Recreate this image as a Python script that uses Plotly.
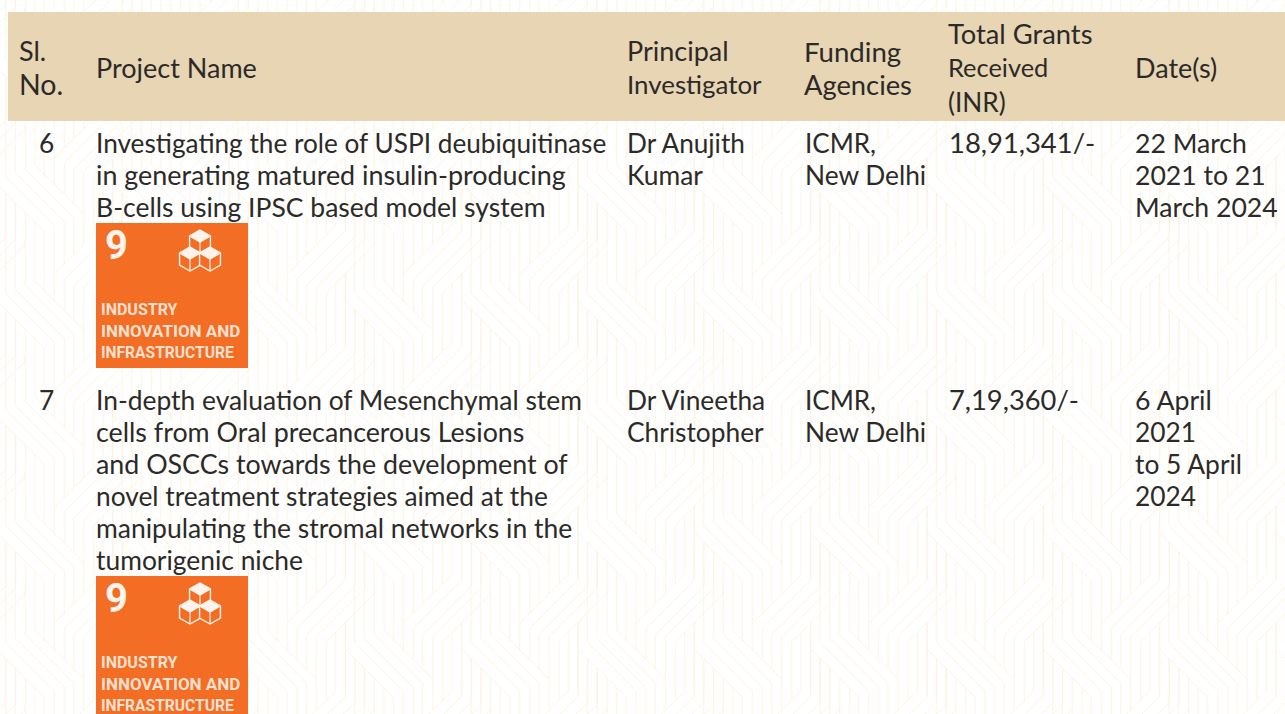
import plotly.graph_objects as go

W, H = 1285, 714
FONT = "Lato"
INK = "#2b2a29"
HEAD_BG = "#e8d5b3"
ORANGE = "#f36d25"
PATTERN = "#fcf1dc"
SOFT_WHITE = "#fff4ec"

header_text = ["Sl.", "No.", "Project Name", "Principal", "Investigator", "Funding", "Agencies",
               "Total Grants", "Received", "(INR)", "Date(s)"]
row_text = [
    "6",
    "Investigating the role of USPI deubiquitinase",
    "in generating matured insulin-producing",
    "B-cells using IPSC based model system",
    "Dr Anujith", "Kumar",
    "ICMR,", "New Delhi",
    "18,91,341/-",
    "22 March", "2021 to 21", "March 2024",
    "7",
    "In-depth evaluation of Mesenchymal stem",
    "cells from Oral precancerous Lesions",
    "and OSCCs towards the development of",
    "novel treatment strategies aimed at the",
    "manipulating the stromal networks in the",
    "tumorigenic niche",
    "Dr Vineetha", "Christopher",
    "ICMR,", "New Delhi",
    "7,19,360/-",
    "6 April", "2021", "to 5 April", "2024",
]
badge_text = ["INDUSTRY", "INNOVATION AND", "INFRASTRUCTURE"]

# layout of the text lines
header_x = [19, 19, 96, 627, 627, 804, 804, 948, 948, 948, 1135]
header_y = [54, 88, 71, 54, 88, 55, 88, 37, 71, 105, 71]
header_size = [27, 28.5, 27, 27, 25.9, 27.6, 27.3, 27.3, 25.4, 26.2, 27]
row_x = [39, 96, 96, 96, 627, 627, 805, 805, 949, 1135, 1135, 1135,
         39, 96, 96, 96, 96, 96, 96, 627, 627, 805, 805, 949, 1135, 1135, 1135, 1135]
row_y = [146, 146, 178, 210, 146, 178, 146, 178, 146, 146, 178, 210,
         403, 403, 435, 467, 499, 531, 563, 403, 435, 403, 435, 403, 403, 435, 467, 499]
row_size = [26.3, 26.2, 26.9, 26.5, 26.2, 26.4, 26, 26.3, 27.4, 26.6, 26.6, 26.6,
            26.3, 26.4, 26.8, 26.8, 26.3, 26.5, 26.4, 26.3, 26.3, 26, 26.3, 27.3, 26.7, 26.3, 26.4, 26.3]
badge_tops = [223, 576]
badge_dy = [86, 108, 130]
badge_size = [16, 17, 15.6]

# one tile of the woven background, read at 3x from the crop starting at (660, 510)
tile = [
    [(103, -13), (103, 205)],
    [(103, 68), (247, 212), (247, 395)],
    [(131, -253), (131, 48), (277, 194), (277, 340)],
    [(160, -224), (160, 36), (307, 183), (307, 312)],
    [(190, -194), (190, 24), (335, 170), (335, 280)],
    [(219, -165), (219, 12), (365, 158), (365, 250)],
    [(277, 424), (277, 340), (423, 194), (423, 18)],
    [(307, 449), (307, 355), (452, 210), (452, -11)],
    [(335, 477), (335, 374), (481, 228), (481, 97)],
    [(365, 507), (365, 380), (510, 235), (510, 126)],
    [(395, 571), (395, 395), (538, 252), (538, 240)],
]
TILE = 349 / 3
segs = []
for i in range(-9, 6):
    for j in range(-7, 4):
        for line in tile:
            pts = [(660 + x / 3 + i * TILE, 510 + y / 3 + j * TILE) for x, y in line]
            if all(p[0] < -20 or p[0] > W + 20 for p in pts) or all(p[1] < -20 or p[1] > H + 20 for p in pts):
                continue
            segs.append("M" + " L".join(f"{x:.1f},{y:.1f}" for x, y in pts))

shapes = [
    dict(type="path", path=" ".join(segs), line=dict(color=PATTERN, width=0.8), layer="below"),
    dict(type="rect", x0=8, x1=W, y0=12, y1=121, fillcolor=HEAD_BG, line_width=0, layer="below"),
]
annots = []
fig = go.Figure()


def add_text(text, xs, ys, sizes):
    fig.add_trace(go.Scatter(
        x=xs, y=ys, text=text,
        mode="text", textposition="middle right", hoverinfo="skip", showlegend=False,
        textfont=dict(family=FONT, size=sizes, color=INK),
    ))


add_text(header_text, header_x, header_y, header_size)
add_text(row_text, row_x, row_y, row_size)

for top in badge_tops:
    shapes.append(dict(type="rect", x0=96, x1=248, y0=top, y1=top + 145, fillcolor=ORANGE, line_width=0))
    annots.append(dict(x=116, y=top + 22, text="<b>9</b>", showarrow=False, xanchor="center", yanchor="middle",
                       font=dict(family="Roboto", size=40, color=SOFT_WHITE)))
    for txt, dy, fs in zip(badge_text, badge_dy, badge_size):
        annots.append(dict(x=99, y=top + dy, text=f"<b>{txt}</b>", showarrow=False, xanchor="left", yanchor="middle",
                           font=dict(family="Roboto", size=fs, color="#fbe0cf")))
    for cx, cy, r in ((200, top + 19, 12), (190, top + 36, 12), (210, top + 36, 12)):
        dx = 0.87 * r
        hexa = f"M{cx},{cy-r} L{cx+dx},{cy-r/2} L{cx+dx},{cy+r/2} L{cx},{cy+r} L{cx-dx},{cy+r/2} L{cx-dx},{cy-r/2} Z"
        inner = f"M{cx-dx},{cy-r/2} L{cx},{cy} L{cx+dx},{cy-r/2} M{cx},{cy} L{cx},{cy+r}"
        shapes.append(dict(type="path", path=hexa, line=dict(color=SOFT_WHITE, width=1.4), fillcolor=ORANGE))
        shapes.append(dict(type="path", path=f"M{cx},{cy-r} L{cx+dx},{cy-r/2} L{cx},{cy} L{cx-dx},{cy-r/2} Z",
                           line_width=0, fillcolor=SOFT_WHITE))
        shapes.append(dict(type="path", path=inner, line=dict(color=SOFT_WHITE, width=1.2)))

fig.update_layout(
    width=W, height=H, margin=dict(l=0, r=0, t=0, b=0),
    paper_bgcolor="rgba(0,0,0,0)", plot_bgcolor="rgba(0,0,0,0)", showlegend=False,
    xaxis=dict(range=[0, W], visible=False, fixedrange=True),
    yaxis=dict(range=[H, 0], visible=False, fixedrange=True),
    shapes=shapes, annotations=annots,
)
fig.write_html("out.html", config={"displayModeBar": False},
               post_script="document.body.style.margin='0';document.body.style.overflow='hidden';")
